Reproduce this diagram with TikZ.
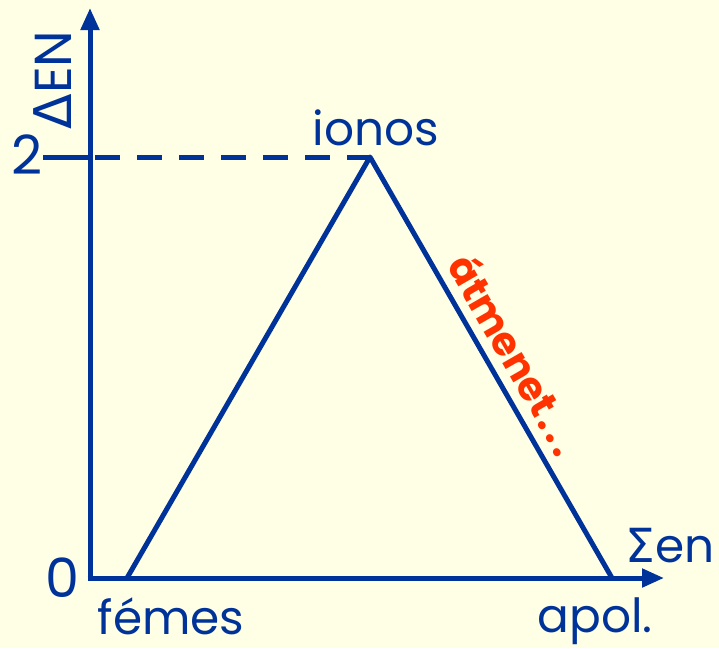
\documentclass[tikz,border=0pt]{standalone}
\usepackage{fontspec}
\setmainfont{Poppins}
\newfontfamily\greekfont{DejaVu Sans}
\usetikzlibrary{arrows.meta}
\definecolor{bgyellow}{HTML}{FFFFE6}
\definecolor{axisblue}{HTML}{003399}
\definecolor{noteorange}{HTML}{FF3300}
\tikzset{
  axisline/.style={draw=axisblue, line width=5pt, -{Triangle[length=22pt,width=18pt]}},
  plotline/.style={draw=axisblue, line width=5pt, line join=round},
  guideline/.style={draw=axisblue, line width=5pt, dash pattern=on 25pt off 17pt},
  lbl/.style={text=axisblue, font=\fontsize{47}{50}\selectfont, inner sep=0pt, anchor=base},
  big/.style={text=axisblue, font=\fontsize{54}{56}\selectfont, inner sep=0pt},
  note/.style={text=noteorange, font=\fontsize{40}{42}\selectfont\bfseries, inner sep=0pt}
}
\begin{document}
\begin{tikzpicture}[x=1pt,y=-1pt]
\fill[bgyellow] (0,0) rectangle (719,648);
\useasboundingbox (0,0) rectangle (719,648);
\coordinate (O) at (90,578);
\coordinate (ytip) at (90,8);
\coordinate (xtip) at (664,578);
\coordinate (A) at (127,578);
\coordinate (B) at (370,157);
\coordinate (C) at (612,578);
\coordinate (Y2) at (90,157);
\coordinate (T2) at (43,157);
% axes
\draw[axisline] (O) -- (ytip);
\draw[axisline] ([xshift=-2.5pt]O) -- (xtip);
% tick & dashed guide
\draw[axisblue, line width=5pt] (T2) -- (Y2);
\draw[guideline] ([xshift=5pt]Y2) -- (B);
% triangle
\draw[plotline] (A) -- (B) -- (C);
% labels
\node[big, rotate=90, font=\fontsize{52}{54}\selectfont] (yl) at (53,80) {{\greekfont Δ}EN};
\node[big] (two) at (27,155) {2};
\node[big] (zero) at (62,578) {0};
\node[lbl] (ion) at (376,145) {ionos};
\node[lbl] (fem) at (171,634) {fémes};
\node[lbl] (apo) at (595,632) {apol.};
\node[lbl] (sen) at (670,562) {{\greekfont Σ}en};
\node[note, rotate=-60] (atm) at (516,354) {átmenet\kern3pt.\kern4pt.\kern4pt.};
\end{tikzpicture}
\end{document}
